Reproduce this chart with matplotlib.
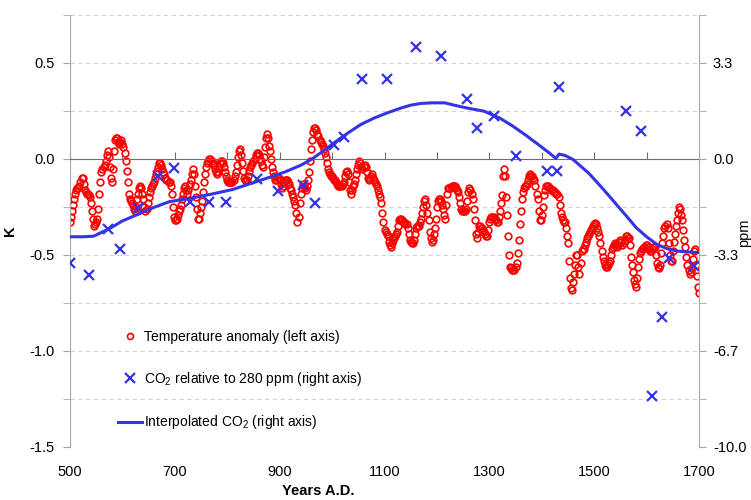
import matplotlib
matplotlib.use("Agg")
import matplotlib.pyplot as plt
from matplotlib.ticker import MultipleLocator, FormatStrFormatter
import numpy as np

plt.rcParams['font.family'] = ['Liberation Sans', 'DejaVu Sans']
plt.rcParams['axes.unicode_minus'] = False

# Температурная аномалия, К (шаг 2 года, 500-1700)
temp_years = np.arange(500, 1701, 2)
temp_k = [
    -0.33, -0.30, -0.27, -0.24, -0.21, -0.18, -0.16, -0.15, -0.15, -0.14,  # 500
    -0.12, -0.10, -0.10, -0.13, -0.16, -0.17, -0.18, -0.18, -0.19, -0.20,  # 520
    -0.23, -0.27, -0.31, -0.35, -0.34, -0.33, -0.31, -0.26, -0.18, -0.12,  # 540
    -0.07, -0.05, -0.04, -0.03, -0.01, 0.02, 0.04, 0.01, -0.04, -0.10,     # 560
    -0.12, -0.05, 0.04, 0.10, 0.11, 0.11, 0.09, 0.08, 0.09, 0.10,          # 580
    0.08, 0.06, 0.03, -0.01, -0.06, -0.12, -0.18, -0.21, -0.22, -0.23,     # 600
    -0.24, -0.26, -0.27, -0.25, -0.21, -0.18, -0.15, -0.14, -0.15, -0.18,  # 620
    -0.21, -0.25, -0.27, -0.26, -0.23, -0.20, -0.17, -0.15, -0.14, -0.13,  # 640
    -0.12, -0.10, -0.08, -0.06, -0.04, -0.02, -0.02, -0.03, -0.05, -0.07,  # 660
    -0.08, -0.10, -0.11, -0.11, -0.12, -0.12, -0.14, -0.18, -0.25, -0.30,  # 680
    -0.32, -0.32, -0.31, -0.29, -0.27, -0.26, -0.24, -0.21, -0.18, -0.15,  # 700
    -0.14, -0.16, -0.18, -0.16, -0.13, -0.11, -0.08, -0.05, -0.08, -0.14,  # 720
    -0.20, -0.26, -0.31, -0.31, -0.28, -0.25, -0.22, -0.17, -0.12, -0.08,  # 740
    -0.04, -0.02, -0.01, 0.00, 0.00, -0.01, -0.02, -0.03, -0.05, -0.07,    # 760
    -0.08, -0.07, -0.04, -0.02, -0.01, -0.01, -0.02, -0.04, -0.07, -0.09,  # 780
    -0.11, -0.12, -0.12, -0.12, -0.12, -0.12, -0.11, -0.09, -0.07, -0.03,  # 800
    0.01, 0.04, 0.05, 0.02, -0.02, -0.06, -0.10, -0.11, -0.11, -0.11,      # 820
    -0.09, -0.06, -0.04, -0.03, -0.02, -0.01, 0.00, 0.02, 0.03, 0.03,      # 840
    0.02, 0.00, -0.01, -0.03, -0.04, 0.01, 0.06, 0.11, 0.13, 0.11,         # 860
    0.07, 0.04, 0.00, -0.04, -0.07, -0.09, -0.11, -0.11, -0.10, -0.10,     # 880
    -0.11, -0.13, -0.15, -0.14, -0.12, -0.11, -0.11, -0.11, -0.12, -0.13,  # 900
    -0.15, -0.16, -0.18, -0.20, -0.22, -0.24, -0.28, -0.33, -0.30, -0.23,  # 920
    -0.18, -0.15, -0.13, -0.14, -0.15, -0.16, -0.14, -0.11, -0.07, -0.01,  # 940
    0.05, 0.10, 0.14, 0.16, 0.16, 0.15, 0.13, 0.12, 0.10, 0.09,            # 960
    0.08, 0.07, 0.05, 0.03, 0.01, -0.02, -0.05, -0.07, -0.08, -0.09,       # 980
    -0.09, -0.10, -0.11, -0.11, -0.12, -0.13, -0.14, -0.14, -0.14, -0.14,  # 1000
    -0.13, -0.12, -0.09, -0.07, -0.06, -0.08, -0.12, -0.16, -0.18, -0.16,  # 1020
    -0.14, -0.13, -0.11, -0.08, -0.05, -0.03, -0.01, -0.02, -0.04, -0.05,  # 1040
    -0.04, -0.03, -0.04, -0.07, -0.10, -0.11, -0.10, -0.09, -0.08, -0.10,  # 1060
    -0.11, -0.12, -0.13, -0.14, -0.16, -0.18, -0.20, -0.23, -0.28, -0.33,  # 1080
    -0.37, -0.38, -0.39, -0.40, -0.43, -0.45, -0.46, -0.44, -0.42, -0.41,  # 1100
    -0.40, -0.39, -0.38, -0.35, -0.32, -0.31, -0.31, -0.32, -0.33, -0.33,  # 1120
    -0.34, -0.34, -0.36, -0.39, -0.42, -0.43, -0.44, -0.44, -0.42, -0.39,  # 1140
    -0.36, -0.35, -0.35, -0.35, -0.33, -0.31, -0.28, -0.25, -0.22, -0.21,  # 1160
    -0.24, -0.28, -0.32, -0.38, -0.41, -0.43, -0.42, -0.39, -0.36, -0.31,  # 1180
    -0.25, -0.22, -0.21, -0.21, -0.22, -0.24, -0.26, -0.29, -0.31, -0.24,  # 1200
    -0.18, -0.15, -0.15, -0.15, -0.14, -0.14, -0.14, -0.14, -0.15, -0.16,  # 1220
    -0.17, -0.20, -0.23, -0.26, -0.27, -0.27, -0.27, -0.27, -0.26, -0.22,  # 1240
    -0.17, -0.15, -0.16, -0.18, -0.21, -0.26, -0.32, -0.39, -0.41, -0.38,  # 1260
    -0.35, -0.35, -0.36, -0.36, -0.37, -0.38, -0.39, -0.40, -0.40, -0.37,  # 1280
    -0.33, -0.31, -0.30, -0.30, -0.30, -0.31, -0.32, -0.33, -0.33, -0.30,  # 1300
    -0.27, -0.23, -0.19, -0.09, -0.05, -0.09, -0.20, -0.29, -0.40, -0.50,  # 1320
    -0.56, -0.57, -0.58, -0.58, -0.58, -0.56, -0.54, -0.49, -0.42, -0.34,  # 1340
    -0.27, -0.21, -0.17, -0.15, -0.14, -0.14, -0.13, -0.11, -0.09, -0.08,  # 1360
    -0.09, -0.09, -0.10, -0.11, -0.14, -0.18, -0.21, -0.27, -0.32, -0.32,  # 1380
    -0.29, -0.25, -0.19, -0.16, -0.14, -0.14, -0.14, -0.15, -0.15, -0.16,  # 1400
    -0.16, -0.16, -0.17, -0.17, -0.18, -0.18, -0.20, -0.24, -0.28, -0.30,  # 1420
    -0.32, -0.33, -0.33, -0.36, -0.40, -0.44, -0.53, -0.62, -0.67, -0.68,  # 1440
    -0.64, -0.60, -0.55, -0.50, -0.50, -0.56, -0.60, -0.54, -0.48, -0.47,  # 1460
    -0.47, -0.45, -0.43, -0.41, -0.40, -0.39, -0.38, -0.37, -0.36, -0.35,  # 1480
    -0.34, -0.335, -0.34, -0.36, -0.38, -0.40, -0.44, -0.48, -0.51, -0.53,  # 1500
    -0.55, -0.56, -0.56, -0.55, -0.54, -0.53, -0.50, -0.47, -0.46, -0.45,  # 1520
    -0.44, -0.45, -0.46, -0.45, -0.43, -0.42, -0.43, -0.45, -0.44, -0.42,  # 1540
    -0.40, -0.40, -0.41, -0.41, -0.45, -0.51, -0.55, -0.59, -0.63, -0.65,  # 1560
    -0.665, -0.62, -0.56, -0.52, -0.49, -0.48, -0.47, -0.47, -0.46, -0.45,  # 1580
    -0.45, -0.46, -0.47, -0.48, -0.48, -0.47, -0.46, -0.46, -0.46, -0.50,  # 1600
    -0.54, -0.56, -0.57, -0.55, -0.49, -0.44, -0.40, -0.36, -0.35, -0.34,  # 1620
    -0.36, -0.44, -0.50, -0.53, -0.53, -0.48, -0.43, -0.39, -0.35, -0.32,  # 1640
    -0.28, -0.25, -0.26, -0.29, -0.32, -0.37, -0.42, -0.46, -0.51, -0.55,  # 1660
    -0.58, -0.60, -0.59, -0.57, -0.52, -0.48, -0.47, -0.55, -0.61, -0.665,  # 1680
    -0.70,
]

# CO2 относительно 280 ppm, отдельные измерения
co2_years = [500, 537, 573, 595, 630, 667, 698, 729, 765, 798,
             856, 896, 944, 968, 1004, 1023, 1058, 1104, 1160, 1207,
             1258, 1276, 1308, 1351, 1410, 1430, 1432, 1560, 1589, 1610,
             1629, 1642, 1690]
co2_ppm = [-3.62, -4.03, -2.44, -3.12, -1.71, -0.59, -0.30, -1.50, -1.50, -1.50,
           -0.71, -1.11, -0.90, -1.52, 0.49, 0.77, 2.78, 2.78, 3.90, 3.59,
           2.08, 1.09, 1.49, 0.10, -0.42, -0.42, 2.49, 1.68, 0.98, -8.23,
           -5.50, -3.43, -3.70]

# Интерполированная кривая CO2
interp_years = [500, 525, 545, 575, 600, 630, 660, 690, 730, 770,
                810, 850, 880, 910, 940, 960, 985, 1005, 1030, 1055,
                1080, 1105, 1130, 1150, 1170, 1190, 1215, 1235, 1260, 1290,
                1320, 1345, 1370, 1395, 1415, 1427, 1433, 1445, 1460, 1490,
                1515, 1535, 1560, 1580, 1600, 1620, 1640, 1660, 1680, 1700]
interp_ppm = [-2.70, -2.70, -2.68, -2.42, -2.15, -1.92, -1.68, -1.48, -1.36, -1.22,
              -1.06, -0.82, -0.64, -0.45, -0.22, -0.02, 0.30, 0.58, 0.90, 1.20,
              1.42, 1.60, 1.76, 1.87, 1.93, 1.95, 1.95, 1.86, 1.76, 1.66,
              1.42, 1.14, 0.82, 0.48, 0.20, 0.02, 0.17, 0.12, -0.02, -0.50,
              -1.00, -1.42, -1.95, -2.38, -2.70, -2.97, -3.12, -3.20, -3.23, -3.25]

blue = '#3434E6'
spine_gray = '#A6A6A6'

fig = plt.figure(figsize=(7.51, 5.0), dpi=100)
ax = fig.add_axes([70 / 751, 53 / 500, 629 / 751, 432 / 500])
ax2 = ax.twinx()

# левая ось, К
ax.set_xlim(500, 1700)
ax.set_ylim(-1.5, 0.75)
ax.yaxis.set_major_locator(MultipleLocator(0.5))
ax.yaxis.set_minor_locator(MultipleLocator(0.25))
ax.yaxis.set_major_formatter(FormatStrFormatter('%.1f'))
ax.grid(which='both', axis='y', color='#D4D4D4', linestyle=(0, (4, 3)), linewidth=0.8)
ax.set_axisbelow(True)

# горизонтальная ось проходит через 0
ax.spines['bottom'].set_position(('data', 0))
ax.spines['bottom'].set_color('#6E6E6E')
ax.spines['top'].set_visible(False)
ax.spines['right'].set_visible(False)
ax.spines['left'].set_color(spine_gray)
ax.set_xticks(range(500, 1701, 100))
ax.tick_params(axis='x', which='major', direction='in', length=5, color='#6E6E6E',
               labelbottom=False)
ax.tick_params(axis='y', which='both', direction='out', length=5, color=spine_gray,
               labelsize=10.5, pad=6)

sec = ax.secondary_xaxis('bottom')
sec.set_xticks(range(500, 1701, 200))
sec.tick_params(length=0, labelsize=10.5, pad=13)
sec.spines['bottom'].set_visible(False)

# правая ось, ppm
ax2.set_ylim(-10, 5)
ax2.yaxis.set_major_locator(MultipleLocator(10 / 3))
ax2.yaxis.set_minor_locator(MultipleLocator(5 / 3))
ax2.yaxis.set_major_formatter(FormatStrFormatter('%.1f'))
for side in ['left', 'top', 'bottom']:
    ax2.spines[side].set_visible(False)
ax2.spines['right'].set_color(spine_gray)
ax2.tick_params(axis='y', which='both', direction='out', length=5, color=spine_gray,
                labelsize=10.5, pad=5)

h1, = ax.plot(temp_years, temp_k, linestyle='none', marker='o', markersize=4.8,
              markerfacecolor='none', markeredgecolor='red', markeredgewidth=1.2,
              label='Temperature anomaly (left axis)')
h3, = ax2.plot(interp_years, interp_ppm, color=blue, linewidth=2.2,
               label=r'Interpolated CO$_{\mathregular{2}}$ (right axis)')
h2, = ax2.plot(co2_years, co2_ppm, linestyle='none', marker='x', markersize=7,
               markeredgewidth=1.6, color=blue,
               label=r'CO$_{\mathregular{2}}$ relative to 280 ppm (right axis)')

leg = ax2.legend(handles=[h1, h2, h3], loc='upper left', frameon=False,
                 bbox_to_anchor=(118 / 751, 1 - 330 / 500), bbox_transform=fig.transFigure,
                 borderaxespad=0, borderpad=0, labelspacing=1.85, handlelength=1.75,
                 handletextpad=0.1, fontsize=10)
leg.legend_handles[0].set_markersize(4.3)

ax.set_xlabel('Years A.D.', fontsize=10.5, fontweight='bold')
ax.xaxis.set_label_coords(0.394, -0.086)
ax.set_ylabel('K', fontsize=10.5, fontweight='bold')
ax.yaxis.set_label_coords(-0.084, 0.5)
ax2.set_ylabel('ppm', fontsize=10.5)
ax2.yaxis.set_label_coords(1.060, 0.495)

fig.savefig('out.png', dpi=100)
